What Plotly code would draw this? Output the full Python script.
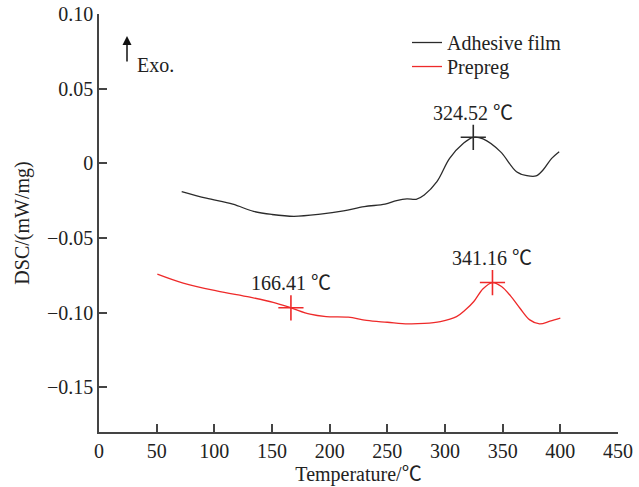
import plotly.graph_objects as go

# ---- data ----
adhesive_T = [71.7, 93, 116, 134, 150, 169, 192, 212, 230, 248, 258, 267, 275, 282,
              293, 304, 316, 324.5, 333, 348, 362, 371, 379, 385, 392.5, 399]
adhesive_dsc = [-0.0190, -0.0234, -0.0274, -0.0322, -0.0343, -0.0355, -0.0341, -0.0319,
                -0.0290, -0.0274, -0.0250, -0.0238, -0.0241, -0.0212, -0.0123, 0.0033,
                0.0134, 0.0174, 0.0163, 0.0078, -0.0056, -0.0083, -0.0085, -0.0045,
                0.0033, 0.0078]

prepreg_T = [50.6, 73, 102, 131, 151, 166.4, 183, 197, 216, 232, 250, 268, 282, 296,
             310, 318, 325, 333, 341.2, 349, 357, 365, 373.5, 382, 391, 400]
prepreg_dsc = [-0.0743, -0.0803, -0.0855, -0.0897, -0.0931, -0.0968, -0.1011, -0.1027,
               -0.1031, -0.1053, -0.1065, -0.1076, -0.1073, -0.1060, -0.1027, -0.0980,
               -0.0926, -0.0840, -0.0799, -0.0825, -0.0890, -0.0971, -0.1049,
               -0.1076, -0.1058, -0.1038]

adh_peak_T = [324.52]
adh_peak_dsc = [0.0174]
pre_peak_T = [166.41, 341.16]
pre_peak_dsc = [-0.0968, -0.0799]

y_tickvals = [-0.15, -0.10, -0.05, 0, 0.05, 0.10]
y_ticktext = ["\u22120.15", "\u22120.10", "\u22120.05", "0", "0.05", "0.10"]
x_tickvals = [0, 50, 100, 150, 200, 250, 300, 350, 400, 450]

BLACK = "#2b2b2b"
RED = "#ee2a2a"
AXIS = "#444444"
FONT = "Liberation Serif, Times New Roman, serif"
DEG = "<span style=\"font-family:'Noto Sans CJK SC'\">\u2103</span>"

fig = go.Figure()
fig.add_trace(go.Scatter(x=adhesive_T, y=adhesive_dsc, mode="lines", name="Adhesive film",
                         legend="legend",
                         line=dict(color=BLACK, width=1.3, shape="spline", smoothing=1)))
fig.add_trace(go.Scatter(x=prepreg_T, y=prepreg_dsc, mode="lines", name="Prepreg",
                         legend="legend2",
                         line=dict(color=RED, width=1.3, shape="spline", smoothing=1)))
fig.add_trace(go.Scatter(x=adh_peak_T, y=adh_peak_dsc, mode="markers", showlegend=False,
                         marker=dict(symbol="cross-thin", size=18,
                                     line=dict(color=BLACK, width=1.6))))
fig.add_trace(go.Scatter(x=pre_peak_T, y=pre_peak_dsc, mode="markers", showlegend=False,
                         marker=dict(symbol="cross-thin", size=18,
                                     line=dict(color=RED, width=1.6))))

annotations = []
for T, v in zip(adh_peak_T + pre_peak_T, adh_peak_dsc + pre_peak_dsc):
    annotations.append(dict(x=T, y=v, xref="x", yref="y", text=f"{T:.2f} " + DEG,
                            showarrow=False, yshift=26,
                            font=dict(family=FONT, size=20, color="#222")))
# Exo. arrow
annotations.append(dict(x=(127 - 99) / 519, y=(431.7 - 36) / 417.7, xref="paper", yref="paper",
                        ax=0, ay=27, text="", showarrow=True, arrowhead=2, arrowsize=1.2,
                        arrowwidth=1.5, arrowcolor="#111"))
annotations.append(dict(x=(135 - 99) / 519, y=(431.7 - 52) / 417.7, xref="paper", yref="paper",
                        text="Exo.", showarrow=False, xanchor="left",
                        font=dict(family=FONT, size=20, color="#222")))

leg_common = dict(xanchor="left", yanchor="top", bgcolor="rgba(0,0,0,0)",
                  font=dict(family=FONT, size=20, color="#222"))

fig.update_layout(
    width=639, height=487,
    margin=dict(l=99, r=21, t=14, b=55, autoexpand=False),
    paper_bgcolor="white", plot_bgcolor="white",
    font=dict(family=FONT, size=20, color="#222"),
    showlegend=True,
    legend=dict(x=(407 - 99) / 519, y=(431.7 - 23) / 417.7, **leg_common),
    legend2=dict(x=(407 - 99) / 519, y=(431.7 - 47) / 417.7, **leg_common),
    annotations=annotations,
    xaxis=dict(range=[0, 450], tickvals=x_tickvals, showline=True, linecolor=AXIS,
               linewidth=1.5, ticks="inside", ticklen=8, tickwidth=1.5, tickcolor=AXIS,
               showgrid=False, zeroline=False,
               title=dict(text="Temperature/" + DEG, standoff=6,
                          font=dict(family=FONT, size=20))),
    yaxis=dict(range=[-0.18, 0.10], tickvals=y_tickvals, ticktext=y_ticktext,
               showline=True, linecolor=AXIS, linewidth=1.5, ticks="inside", ticklen=8,
               tickwidth=1.5, tickcolor=AXIS, showgrid=False, zeroline=False,
               title=dict(text="DSC/(mW/mg)", standoff=12,
                          font=dict(family=FONT, size=20))),
)

fig.write_html("out.html")
